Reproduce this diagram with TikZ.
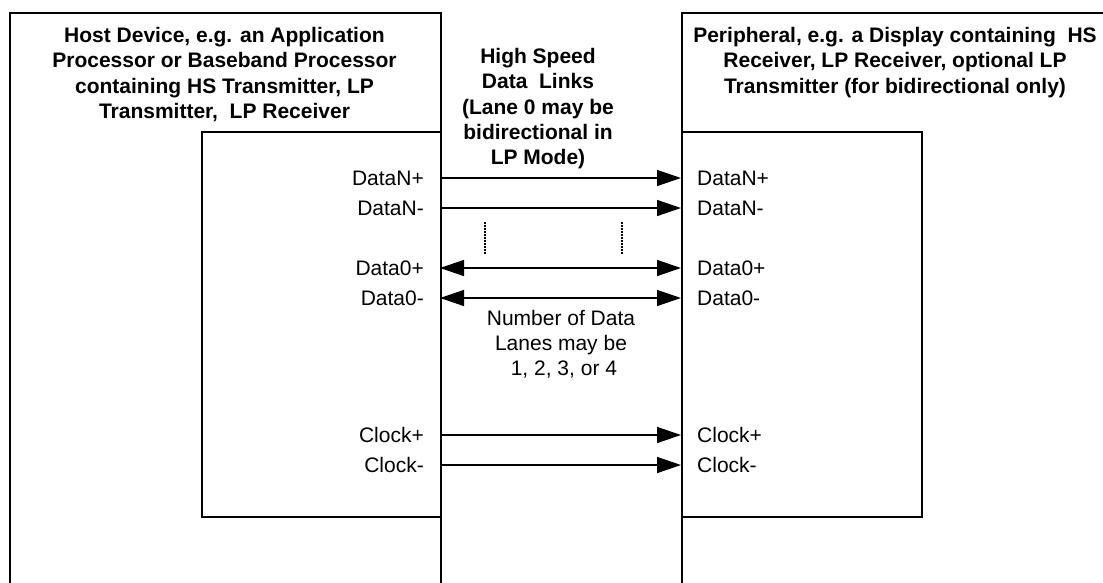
\documentclass[tikz,border=0pt]{standalone}
\usepackage{fontspec}
\setmainfont{Liberation Sans}
\usetikzlibrary{arrows.meta}
\tikzset{
  box/.style={draw, line width=1.5pt, rectangle, inner sep=0pt, anchor=north west},
  title/.style={font=\fontsize{21}{25.3}\selectfont\bfseries, align=center, inner sep=0pt, anchor=north},
  note/.style={font=\fontsize{21}{25}\selectfont, align=center, inner sep=0pt, anchor=north},
  lablL/.style={font=\fontsize{21}{25}\selectfont, inner sep=0pt, anchor=base east},
  lablR/.style={font=\fontsize{21}{25}\selectfont, inner sep=0pt, anchor=base west},
  link/.style={-{Triangle[length=24pt,width=16pt]}, line width=1.4pt},
  bilink/.style={{Triangle[length=24pt,width=16pt]}-{Triangle[length=24pt,width=16pt]}, line width=1.4pt},
  dotline/.style={line width=1.1pt, dash pattern=on 1.5pt off 1.5pt}
}
\begin{document}
\begin{tikzpicture}[x=1pt,y=-1pt]
\useasboundingbox (0,0) rectangle (1103,582);
\clip (0,0) rectangle (1103,582);
\fill[white] (0,0) rectangle (1103,582);
% outer boxes
\node[box, minimum width=431pt, minimum height=620pt] (hostout) at (9,12) {};
\node[box, minimum width=520pt, minimum height=620pt] (perout) at (681,12) {};
% inner boxes
\node[box, minimum width=239pt, minimum height=385pt] (hostin) at (201,131) {};
\node[box, minimum width=240pt, minimum height=385pt] (perin) at (681,131) {};
% titles
\node[title] (hosttitle) at (224.5,27) {Host Device, e.g. an Application\\Processor or Baseband Processor\\containing HS Transmitter, LP\\Transmitter,~~LP Receiver};
\node[title] (hstitle) at (538,48) {High Speed\\Data~~Links\\(Lane 0 may be\\bidirectional in\\LP Mode)};
\node[title] (pertitle) at (895,27) {Peripheral, e.g. a Display containing~~HS\\Receiver, LP Receiver, optional LP\\Transmitter (for bidirectional only)};
\node[note] (lanes) at (561,310) {Number of Data\\Lanes may be\\\ 1, 2, 3, or 4};
% left labels
\node[lablL] (lDNp) at (424,185.5) {DataN+};
\node[lablL] (lDNm) at (424,215.5) {DataN-};
\node[lablL] (lD0p) at (424,275.5) {Data0+};
\node[lablL] (lD0m) at (424,305.5) {Data0-};
\node[lablL] (lCp) at (424,442.5) {Clock+};
\node[lablL] (lCm) at (424,472.5) {Clock-};
% right labels
\node[lablR] (rDNp) at (697,185.5) {DataN+};
\node[lablR] (rDNm) at (697,215.5) {DataN-};
\node[lablR] (rD0p) at (697,275.5) {Data0+};
\node[lablR] (rD0m) at (697,305.5) {Data0-};
\node[lablR] (rCp) at (697,442.5) {Clock+};
\node[lablR] (rCm) at (697,472.5) {Clock-};
% connector end points
\coordinate (aDNp) at (440,178);   \coordinate (bDNp) at (681,178);
\coordinate (aDNm) at (440,208);   \coordinate (bDNm) at (681,208);
\coordinate (aD0p) at (440,268);   \coordinate (bD0p) at (681,268);
\coordinate (aD0m) at (440,298);   \coordinate (bD0m) at (681,298);
\coordinate (aCp) at (440,435);    \coordinate (bCp) at (681,435);
\coordinate (aCm) at (440,465);    \coordinate (bCm) at (681,465);
\draw[link] (aDNp) -- (bDNp);
\draw[link] (aDNm) -- (bDNm);
\draw[bilink] (aD0p) -- (bD0p);
\draw[bilink] (aD0m) -- (bD0m);
\draw[link] (aCp) -- (bCp);
\draw[link] (aCm) -- (bCm);
% dotted continuation marks
\coordinate (d1t) at (485,222); \coordinate (d1b) at (485,254);
\coordinate (d2t) at (622,222); \coordinate (d2b) at (622,254);
\draw[dotline] (d1t) -- (d1b);
\draw[dotline] (d2t) -- (d2b);
\end{tikzpicture}
\end{document}
